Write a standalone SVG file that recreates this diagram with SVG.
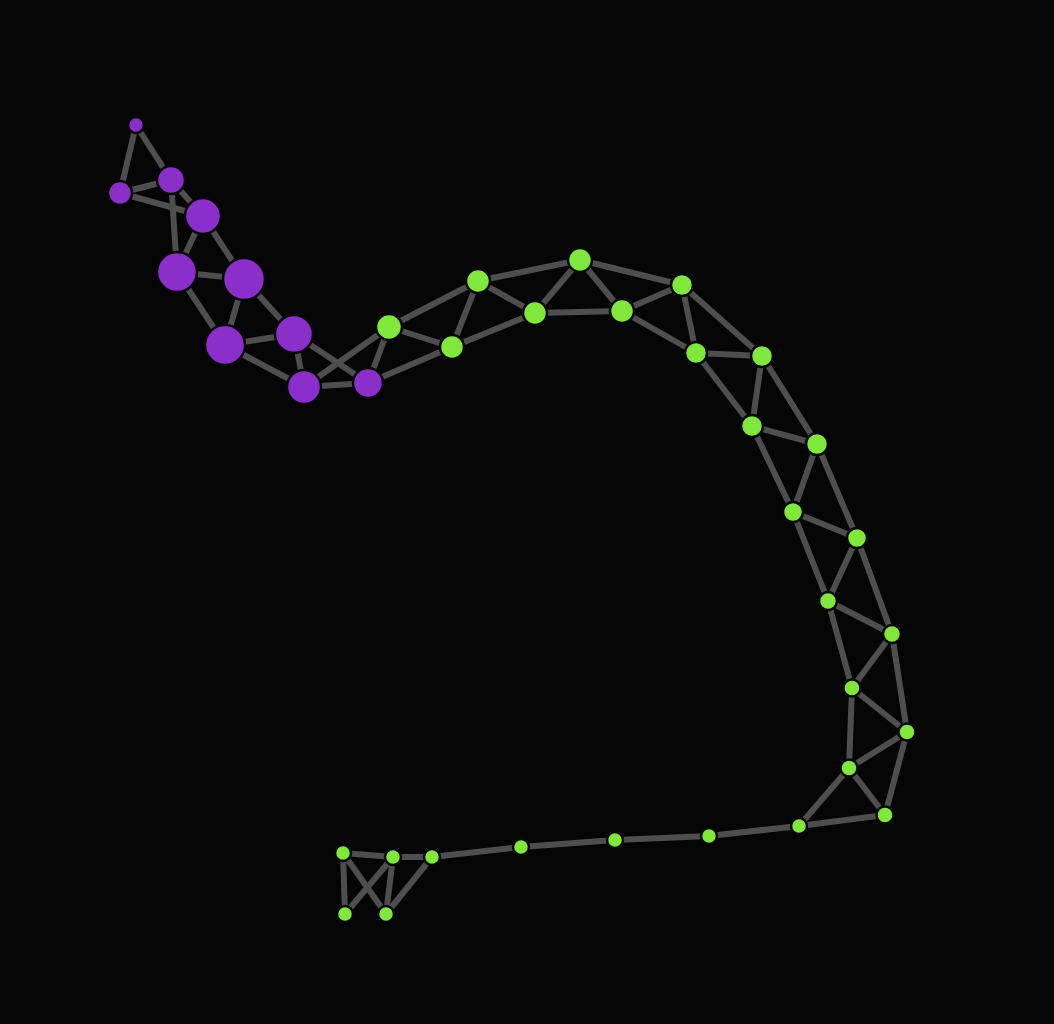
<svg xmlns="http://www.w3.org/2000/svg" width="1054" height="1024" viewBox="0 0 1054 1024">
<style>
.e{stroke:#4e4e4e;stroke-width:6;stroke-linecap:round;fill:none}
.p{fill:#8a2fca;stroke:#080808;stroke-width:2.5}
.g{fill:#80e83c;stroke:#080808;stroke-width:2.5}
</style>
<rect x="0" y="0" width="1054" height="1024" fill="#050505"/>
<g id="connectors">
<line class="e" x1="136" y1="125" x2="120" y2="193"/>
<line class="e" x1="136" y1="125" x2="171" y2="180"/>
<line class="e" x1="120" y1="193" x2="171" y2="180"/>
<line class="e" x1="120" y1="193" x2="203" y2="216"/>
<line class="e" x1="171" y1="180" x2="203" y2="216"/>
<line class="e" x1="171" y1="180" x2="177" y2="272"/>
<line class="e" x1="203" y1="216" x2="177" y2="272"/>
<line class="e" x1="203" y1="216" x2="244" y2="279"/>
<line class="e" x1="177" y1="272" x2="244" y2="279"/>
<line class="e" x1="177" y1="272" x2="225" y2="345"/>
<line class="e" x1="244" y1="279" x2="225" y2="345"/>
<line class="e" x1="244" y1="279" x2="294" y2="334"/>
<line class="e" x1="225" y1="345" x2="294" y2="334"/>
<line class="e" x1="225" y1="345" x2="304" y2="387"/>
<line class="e" x1="294" y1="334" x2="304" y2="387"/>
<line class="e" x1="294" y1="334" x2="368" y2="383"/>
<line class="e" x1="304" y1="387" x2="368" y2="383"/>
<line class="e" x1="304" y1="387" x2="389" y2="327"/>
<line class="e" x1="368" y1="383" x2="389" y2="327"/>
<line class="e" x1="368" y1="383" x2="452" y2="347"/>
<line class="e" x1="389" y1="327" x2="452" y2="347"/>
<line class="e" x1="389" y1="327" x2="478" y2="281"/>
<line class="e" x1="452" y1="347" x2="478" y2="281"/>
<line class="e" x1="452" y1="347" x2="535" y2="313"/>
<line class="e" x1="478" y1="281" x2="535" y2="313"/>
<line class="e" x1="478" y1="281" x2="580" y2="260"/>
<line class="e" x1="535" y1="313" x2="580" y2="260"/>
<line class="e" x1="535" y1="313" x2="622" y2="311"/>
<line class="e" x1="580" y1="260" x2="622" y2="311"/>
<line class="e" x1="580" y1="260" x2="682" y2="285"/>
<line class="e" x1="622" y1="311" x2="682" y2="285"/>
<line class="e" x1="622" y1="311" x2="696" y2="353"/>
<line class="e" x1="682" y1="285" x2="696" y2="353"/>
<line class="e" x1="682" y1="285" x2="762" y2="356"/>
<line class="e" x1="696" y1="353" x2="762" y2="356"/>
<line class="e" x1="696" y1="353" x2="752" y2="426"/>
<line class="e" x1="762" y1="356" x2="752" y2="426"/>
<line class="e" x1="762" y1="356" x2="817" y2="444"/>
<line class="e" x1="752" y1="426" x2="817" y2="444"/>
<line class="e" x1="752" y1="426" x2="793" y2="512"/>
<line class="e" x1="817" y1="444" x2="793" y2="512"/>
<line class="e" x1="817" y1="444" x2="857" y2="538"/>
<line class="e" x1="793" y1="512" x2="857" y2="538"/>
<line class="e" x1="793" y1="512" x2="828" y2="601"/>
<line class="e" x1="857" y1="538" x2="828" y2="601"/>
<line class="e" x1="857" y1="538" x2="892" y2="634"/>
<line class="e" x1="828" y1="601" x2="892" y2="634"/>
<line class="e" x1="828" y1="601" x2="852" y2="688"/>
<line class="e" x1="892" y1="634" x2="852" y2="688"/>
<line class="e" x1="892" y1="634" x2="907" y2="732"/>
<line class="e" x1="852" y1="688" x2="907" y2="732"/>
<line class="e" x1="852" y1="688" x2="849" y2="768"/>
<line class="e" x1="907" y1="732" x2="849" y2="768"/>
<line class="e" x1="907" y1="732" x2="885" y2="815"/>
<line class="e" x1="849" y1="768" x2="885" y2="815"/>
<line class="e" x1="849" y1="768" x2="799" y2="826"/>
<line class="e" x1="885" y1="815" x2="799" y2="826"/>
<line class="e" x1="799" y1="826" x2="709" y2="836"/>
<line class="e" x1="709" y1="836" x2="615" y2="840"/>
<line class="e" x1="615" y1="840" x2="521" y2="847"/>
<line class="e" x1="521" y1="847" x2="432" y2="857"/>
<line class="e" x1="432" y1="857" x2="393" y2="857"/>
<line class="e" x1="393" y1="857" x2="343" y2="853"/>
<line class="e" x1="343" y1="853" x2="345" y2="914"/>
<line class="e" x1="343" y1="853" x2="386" y2="914"/>
<line class="e" x1="393" y1="857" x2="345" y2="914"/>
<line class="e" x1="393" y1="857" x2="386" y2="914"/>
<line class="e" x1="432" y1="857" x2="386" y2="914"/>
</g>
<g id="nodes">
<circle id="p1" class="p" cx="136" cy="125" r="8"/>
<circle id="p2" class="p" cx="120" cy="193" r="12"/>
<circle id="p3" class="p" cx="171" cy="180" r="14"/>
<circle id="p4" class="p" cx="203" cy="216" r="18"/>
<circle id="p5" class="p" cx="177" cy="272" r="20"/>
<circle id="p6" class="p" cx="244" cy="279" r="21"/>
<circle id="p7" class="p" cx="225" cy="345" r="20"/>
<circle id="p8" class="p" cx="294" cy="334" r="19"/>
<circle id="p9" class="p" cx="304" cy="387" r="17"/>
<circle id="p10" class="p" cx="368" cy="383" r="15"/>
<circle id="g1" class="g" cx="389" cy="327" r="13"/>
<circle id="g2" class="g" cx="452" cy="347" r="12"/>
<circle id="g3" class="g" cx="478" cy="281" r="12"/>
<circle id="g4" class="g" cx="535" cy="313" r="12"/>
<circle id="g5" class="g" cx="580" cy="260" r="12"/>
<circle id="g6" class="g" cx="622" cy="311" r="12"/>
<circle id="g7" class="g" cx="682" cy="285" r="11"/>
<circle id="g8" class="g" cx="696" cy="353" r="11"/>
<circle id="g9" class="g" cx="762" cy="356" r="11"/>
<circle id="g10" class="g" cx="752" cy="426" r="11"/>
<circle id="g11" class="g" cx="817" cy="444" r="11"/>
<circle id="g12" class="g" cx="793" cy="512" r="10"/>
<circle id="g13" class="g" cx="857" cy="538" r="10"/>
<circle id="g14" class="g" cx="828" cy="601" r="9"/>
<circle id="g15" class="g" cx="892" cy="634" r="9"/>
<circle id="g16" class="g" cx="852" cy="688" r="8.5"/>
<circle id="g17" class="g" cx="907" cy="732" r="8.5"/>
<circle id="g18" class="g" cx="849" cy="768" r="8.5"/>
<circle id="g19" class="g" cx="885" cy="815" r="8.5"/>
<circle id="g20" class="g" cx="799" cy="826" r="8"/>
<circle id="g21" class="g" cx="709" cy="836" r="8"/>
<circle id="g22" class="g" cx="615" cy="840" r="8"/>
<circle id="g23" class="g" cx="521" cy="847" r="8"/>
<circle id="g24" class="g" cx="432" cy="857" r="8"/>
<circle id="g25" class="g" cx="393" cy="857" r="8"/>
<circle id="g26" class="g" cx="343" cy="853" r="8"/>
<circle id="g27" class="g" cx="345" cy="914" r="8"/>
<circle id="g28" class="g" cx="386" cy="914" r="8"/>
</g>
</svg>
